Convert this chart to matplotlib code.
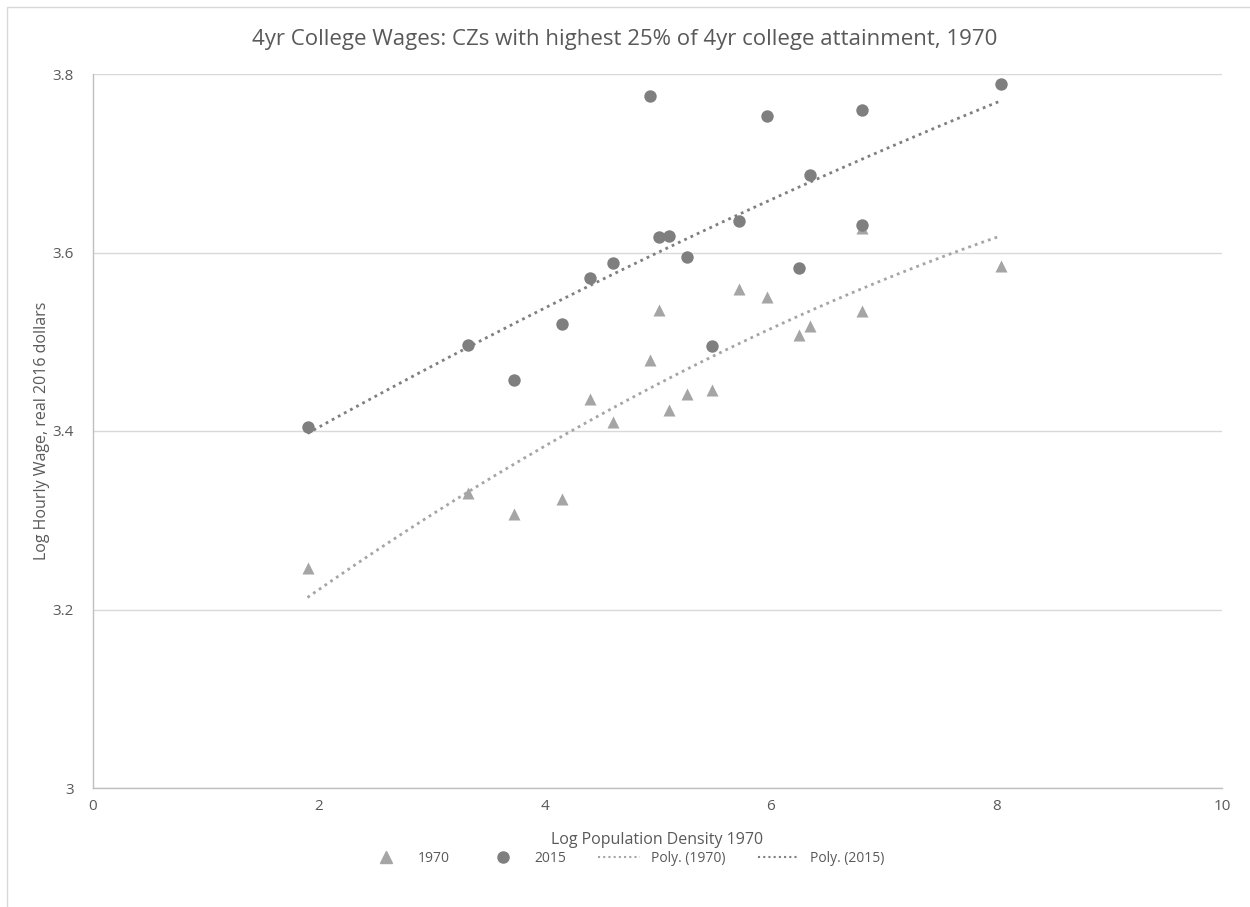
import numpy as np
import matplotlib
matplotlib.use("Agg")
import matplotlib.pyplot as plt
from matplotlib.lines import Line2D
from matplotlib.patches import Rectangle

# ---- data ----
log_density = [1.90, 3.32, 3.73, 4.15, 4.40, 4.61, 4.93, 5.01, 5.10, 5.26,
               5.48, 5.72, 5.97, 6.25, 6.35, 6.81, 6.81, 8.04]
wage_1970 = [3.246, 3.331, 3.307, 3.324, 3.436, 3.410, 3.479, 3.536, 3.424, 3.442,
             3.446, 3.559, 3.550, 3.508, 3.518, 3.534, 3.628, 3.585]
wage_2015 = [3.404, 3.496, 3.457, 3.520, 3.571, 3.588, 3.775, 3.617, 3.618, 3.595,
             3.495, 3.635, 3.753, 3.583, 3.687, 3.760, 3.631, 3.789]
x_ticks = [0, 2, 4, 6, 8, 10]
y_ticks = [3.0, 3.2, 3.4, 3.6, 3.8]
y_tick_labels = ["3", "3.2", "3.4", "3.6", "3.8"]
series_labels = ["1970", "2015", "Poly. (1970)", "Poly. (2015)"]
title = "4yr College Wages: CZs with highest 25% of 4yr college attainment, 1970"
xlabel = "Log Population Density 1970"
ylabel = "Log Hourly Wage, real 2016 dollars"

plt.rcParams['font.family'] = ['Open Sans', 'DejaVu Sans']

W, H = 1250, 907
fig = plt.figure(figsize=(W / 100, H / 100), dpi=100)
fig.patch.set_facecolor("white")

# outer chart border (left/top visible)
fig.patches.append(Rectangle((7 / W, -0.1), 1.2, 1 - 7 / H + 0.1, transform=fig.transFigure,
                             fill=False, edgecolor="#D9D9D9", linewidth=1.0))

left, right, top, bottom = 93, 1222, 74, 788
ax = fig.add_axes([left / W, 1 - bottom / H, (right - left) / W, (bottom - top) / H])

c1970 = "#A5A5A5"
c2015 = "#7F7F7F"

x = np.array(log_density)
y70 = np.array(wage_1970)
y15 = np.array(wage_2015)

ax.scatter(x, y70, marker="^", s=75, color=c1970, zorder=3, linewidths=0)
ax.scatter(x, y15, marker="o", s=80, color=c2015, zorder=4, linewidths=0)

xs = np.linspace(x.min(), x.max(), 200)
p70 = np.polyfit(x, y70, 2)
p15 = np.polyfit(x, y15, 2)
ax.plot(xs, np.polyval(p70, xs), linestyle=(0, (1, 1.5)), color=c1970, linewidth=2.0, zorder=2)
ax.plot(xs, np.polyval(p15, xs), linestyle=(0, (1, 1.5)), color=c2015, linewidth=2.0, zorder=2)

ax.set_xlim(0, 10)
ax.set_ylim(3.0, 3.8)
ax.set_xticks(x_ticks)
ax.set_yticks(y_ticks)
ax.set_yticklabels(y_tick_labels)
ax.tick_params(axis="both", length=0, labelsize=11, labelcolor="#595959")
ax.tick_params(axis="x", pad=8)
ax.tick_params(axis="y", pad=14)
ax.yaxis.grid(True, color="#D9D9D9", linewidth=1.0)
ax.set_axisbelow(True)
for s in ["top", "right"]:
    ax.spines[s].set_visible(False)
for s in ["left", "bottom"]:
    ax.spines[s].set_color("#BFBFBF")
    ax.spines[s].set_linewidth(1.0)

ax.set_xlabel(xlabel, fontsize=11.5, color="#595959", labelpad=13)
ax.set_ylabel(ylabel, fontsize=11.5, color="#595959", labelpad=1.5)

fig.text(0.5, 1 - 40 / H, title, ha="center", va="center", fontsize=16, color="#595959")

handles = [
    Line2D([], [], marker="^", color=c1970, linestyle="none", markersize=8),
    Line2D([], [], marker="o", color=c2015, linestyle="none", markersize=8),
    Line2D([], [], color=c1970, linestyle=(0, (1, 1.5)), linewidth=1.5),
    Line2D([], [], color=c2015, linestyle=(0, (1, 1.5)), linewidth=1.5),
]
fig.legend(handles, series_labels, loc="center", bbox_to_anchor=(0.5, 1 - 858 / H),
           ncol=4, frameon=False, fontsize=10, labelcolor="#595959",
           handlelength=3.0, columnspacing=2.3, handletextpad=0.8)

fig.savefig("out.png", dpi=100)
